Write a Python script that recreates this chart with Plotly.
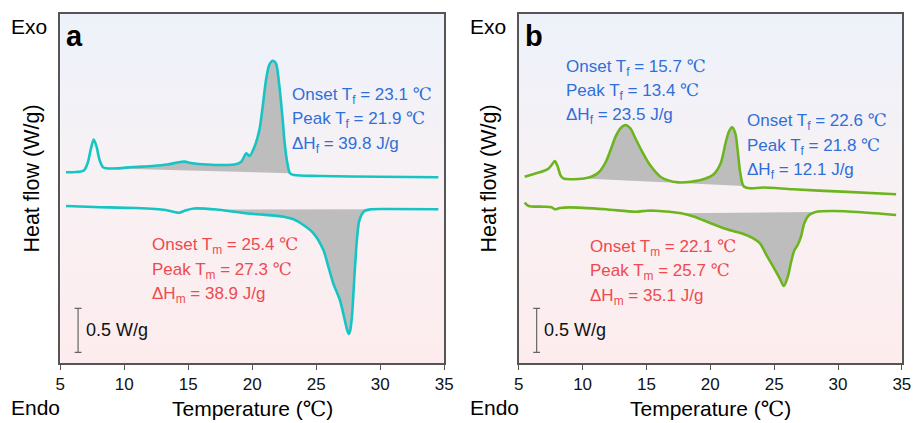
import numpy as np
import plotly.graph_objects as go

# ---- DSC traces: temperature (°C) and heat flow (W/g, curves offset vertically) ----
# (a) cooling scan
t_a_cool = [5.46, 6.23, 6.85, 7.15, 7.38, 7.62, 7.85, 8.08, 8.38, 9.15, 10.69, 12.23, 13.38,
            14.15, 14.69, 15.31, 16.46, 18.0, 18.62, 19.15, 19.54, 19.79, 20.18, 20.56, 20.82,
            21.08, 21.33, 21.59, 21.85, 22.10, 22.36, 22.54, 22.75, 22.95, 23.25, 25.31, 29.92, 34.54]
hf_a_cool = [2.167, 2.170, 2.188, 2.273, 2.420, 2.540, 2.455, 2.307, 2.222, 2.210, 2.227, 2.239, 2.256,
             2.278, 2.288, 2.270, 2.256, 2.250, 2.256, 2.288, 2.383, 2.352, 2.458, 2.648, 2.913,
             3.216, 3.386, 3.435, 3.406, 3.178, 2.799, 2.497, 2.269, 2.156, 2.136, 2.125, 2.117, 2.110]
# (a) heating scan
t_a_heat = [5.46, 7.62, 10.92, 13.23, 13.92, 14.31, 14.77, 15.46, 17.23, 18.62, 20.15, 22.46, 23.23,
            24.0, 24.79, 25.56, 25.95, 26.33, 26.85, 27.23, 27.42, 27.54, 27.65, 27.79, 28.0,
            28.18, 28.38, 28.77, 29.28, 30.69, 34.54]
hf_a_heat = [1.784, 1.773, 1.761, 1.739, 1.716, 1.708, 1.733, 1.756, 1.744, 1.719, 1.693, 1.663, 1.633,
             1.568, 1.474, 1.284, 1.094, 0.906, 0.716, 0.489, 0.375, 0.330, 0.364, 0.526, 1.019,
             1.398, 1.625, 1.727, 1.747, 1.750, 1.747]
# (b) cooling scan
t_b_cool = [5.46, 6.18, 6.93, 7.34, 7.57, 7.82, 8.03, 8.26, 8.49, 9.11, 10.11, 10.73, 11.29, 11.81,
            12.19, 12.58, 12.96, 13.35, 13.74, 14.12, 14.64, 15.28, 16.18, 17.46, 18.49, 19.52,
            20.29, 20.81, 21.19, 21.45, 21.70, 21.96, 22.14, 22.35, 22.60, 23.12, 24.14, 26.46,
            30.31, 34.55]
hf_b_cool = [2.117, 2.148, 2.182, 2.210, 2.250, 2.295, 2.239, 2.136, 2.097, 2.088, 2.097, 2.119, 2.170,
             2.284, 2.420, 2.572, 2.667, 2.705, 2.667, 2.557, 2.409, 2.250, 2.108, 2.053, 2.060,
             2.091, 2.148, 2.269, 2.497, 2.628, 2.678, 2.610, 2.420, 2.156, 2.011, 1.985, 1.994,
             1.974, 1.947, 1.917]
# (b) heating scan
t_b_heat = [5.46, 5.77, 6.93, 7.57, 7.82, 8.21, 8.98, 11.81, 14.12, 15.02, 15.66, 17.72, 18.75,
            20.03, 21.31, 22.60, 23.37, 23.89, 24.40, 24.92, 25.43, 25.76, 26.07, 26.33, 26.59,
            26.84, 27.10, 27.36, 27.74, 28.25, 29.54, 31.85, 34.55]
hf_b_heat = [1.822, 1.784, 1.776, 1.769, 1.747, 1.761, 1.769, 1.747, 1.719, 1.731, 1.731, 1.701, 1.663,
             1.588, 1.519, 1.466, 1.417, 1.360, 1.227, 1.094, 0.963, 0.875, 0.981, 1.151, 1.284,
             1.341, 1.435, 1.588, 1.682, 1.716, 1.727, 1.713, 1.682]

# integration windows (°C) of the shaded transition peaks
win_a_cool = (9.15, 22.95)
win_a_heat = (17.23, 29.28)
win_b_cool = (10.11, 22.60)
win_b_heat = (17.72, 28.25)

X_RANGE = [5, 35]
Y_RANGE = [0, 3.966]
X_TICKS = [5, 10, 15, 20, 25, 30, 35]
SCALE_BAR = 0.5      # W/g
SCALE_BASE = 0.12    # bottom of the scale bar

FONT = "Liberation Sans, Arial, sans-serif"
DEG = '<span style="font-family:Liberation Serif, DejaVu Serif, serif">℃</span>'
BLUE = "#2f6fd9"
RED = "#ef4a4f"
CYAN = "#16c4c4"
GREEN = "#6cb51e"
FRAME = "#555555"

fig = go.Figure()


def panel(xref, yref, t_cool, hf_cool, t_heat, hf_heat, wc, wh, color):
    # vertical background gradient (pink at the bottom, light blue at the top)
    fig.add_trace(go.Scatter(
        x=[X_RANGE[0], X_RANGE[1], X_RANGE[1], X_RANGE[0], X_RANGE[0]],
        y=[Y_RANGE[0], Y_RANGE[0], Y_RANGE[1], Y_RANGE[1], Y_RANGE[0]],
        mode="lines", line=dict(width=0), fill="toself",
        fillgradient=dict(type="vertical",
                          colorscale=[[0, "rgb(253,236,237)"], [0.5, "rgb(248,241,244)"],
                                      [1, "rgb(237,242,250)"]],
                          start=Y_RANGE[0], stop=Y_RANGE[1]),
        hoverinfo="skip", showlegend=False, xaxis=xref, yaxis=yref))
    # shaded peak areas (curve segment closed by a straight baseline)
    for t, hf, w in ((t_cool, hf_cool, wc), (t_heat, hf_heat, wh)):
        t = np.asarray(t)
        hf = np.asarray(hf)
        m = (t >= w[0]) & (t <= w[1])
        fig.add_trace(go.Scatter(
            x=t[m], y=hf[m], mode="lines", fill="toself", fillcolor="#bdbdbd",
            line=dict(width=0, shape="spline", smoothing=0.8),
            hoverinfo="skip", showlegend=False, xaxis=xref, yaxis=yref))
    # the DSC curves
    for t, hf in ((t_cool, hf_cool), (t_heat, hf_heat)):
        fig.add_trace(go.Scatter(
            x=t, y=hf, mode="lines",
            line=dict(color=color, width=2.6, shape="spline", smoothing=0.8),
            showlegend=False, xaxis=xref, yaxis=yref))
    # 0.5 W/g scale bar
    xb, cap = 6.4, 0.27
    y0, y1 = SCALE_BASE, SCALE_BASE + SCALE_BAR
    for seg in ((xb, y0, xb, y1), (xb - cap, y0, xb + cap, y0), (xb - cap, y1, xb + cap, y1)):
        fig.add_shape(type="line", x0=seg[0], y0=seg[1], x1=seg[2], y1=seg[3],
                      xref=xref, yref=yref, line=dict(color="#666666", width=1.2))
    fig.add_annotation(x=xb + 0.45, y=(y0 + y1) / 2, xref=xref, yref=yref,
                       text=f"{SCALE_BAR} W/g", showarrow=False, xanchor="left",
                       yanchor="middle", font=dict(family=FONT, size=18, color="#111111"))


panel("x", "y", t_a_cool, hf_a_cool, t_a_heat, hf_a_heat, win_a_cool, win_a_heat, CYAN)
panel("x2", "y2", t_b_cool, hf_b_cool, t_b_heat, hf_b_heat, win_b_cool, win_b_heat, GREEN)


def text_block(xref, yref, x, ys, lines, color):
    for y, s in zip(ys, lines):
        fig.add_annotation(x=x, y=y, xref=xref, yref=yref, text=s, showarrow=False,
                           xanchor="left", yanchor="middle",
                           font=dict(family=FONT, size=17, color=color))


text_block("x", "y", 22.92, [3.035, 2.762, 2.478],
           [f"Onset T<sub>f</sub> = 23.1 {DEG}", f"Peak T<sub>f</sub> = 21.9 {DEG}",
            "ΔH<sub>f</sub> = 39.8 J/g"], BLUE)
text_block("x", "y", 12.02, [1.325, 1.041, 0.768],
           [f"Onset T<sub>m</sub> = 25.4 {DEG}", f"Peak T<sub>m</sub> = 27.3 {DEG}",
            "ΔH<sub>m</sub> = 38.9 J/g"], RED)
text_block("x2", "y2", 8.55, [3.356, 3.080, 2.808],
           [f"Onset T<sub>f</sub> = 15.7 {DEG}", f"Peak T<sub>f</sub> = 13.4 {DEG}",
            "ΔH<sub>f</sub> = 23.5 J/g"], BLUE)
text_block("x2", "y2", 22.68, [2.739, 2.455, 2.183],
           [f"Onset T<sub>f</sub> = 22.6 {DEG}", f"Peak T<sub>f</sub> = 21.8 {DEG}",
            "ΔH<sub>f</sub> = 12.1 J/g"], BLUE)
text_block("x2", "y2", 10.40, [1.306, 1.033, 0.749],
           [f"Onset T<sub>m</sub> = 22.1 {DEG}", f"Peak T<sub>m</sub> = 25.7 {DEG}",
            "ΔH<sub>m</sub> = 35.1 J/g"], RED)

W, H = 921, 423


def paper_text(px, py, text, size, xanchor="left", bold=False, angle=0):
    fig.add_annotation(x=px / W, y=1 - py / H, xref="paper", yref="paper",
                       text=f"<b>{text}</b>" if bold else text, showarrow=False,
                       xanchor=xanchor, yanchor="middle", textangle=angle,
                       font=dict(family=FONT, size=size, color="#000000"))


for left, label, ycol in ((56, "a", 27), (521.7, "b", 491)):
    right = left + 390
    paper_text(left - 52, 27, "Exo", 21)
    paper_text(left - 52, 407, "Endo", 21)
    paper_text(left + 4, 36, label, 29, bold=True)
    paper_text((left + right) / 2, 409, f"Temperature ({DEG})", 21, xanchor="center")
    paper_text(ycol, 179, "Heat flow (W/g)", 21.5, xanchor="center", angle=-90)

axis_common = dict(range=X_RANGE, tickvals=X_TICKS, ticks="outside", ticklen=5,
                   tickcolor=FRAME, tickwidth=1.2, showline=True, linecolor=FRAME,
                   linewidth=1.5, mirror=True, showgrid=False, zeroline=False,
                   tickfont=dict(family=FONT, size=17, color="#111111"))
yaxis_common = dict(range=Y_RANGE, showticklabels=False, ticks="", showline=True,
                    linecolor=FRAME, linewidth=1.5, mirror=True, showgrid=False,
                    zeroline=False, domain=[1 - 363 / H, 1 - 14 / H])

fig.update_layout(
    width=W, height=H, margin=dict(l=0, r=0, t=0, b=0),
    paper_bgcolor="white", plot_bgcolor="white",
    xaxis=dict(axis_common, domain=[56 / W, 446 / W], anchor="y"),
    yaxis=dict(yaxis_common, anchor="x"),
    xaxis2=dict(axis_common, domain=[521.7 / W, 910.7 / W], anchor="y2"),
    yaxis2=dict(yaxis_common, anchor="x2"),
)

fig.write_html("out.html")
